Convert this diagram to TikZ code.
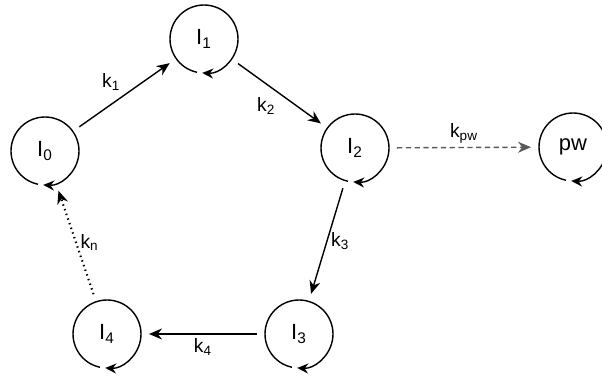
\documentclass[tikz,border=0pt]{standalone}
\usepackage{fontspec}
\setmainfont{Liberation Sans}
\usetikzlibrary{arrows.meta,calc}

\begin{document}
\begin{tikzpicture}[
x=0.02cm,
y=-0.02cm,
every node/.style={font=\fontsize{11}{12}\selectfont},
pool/.style={circle,minimum size=1.36cm,inner sep=0pt,outer sep=0.16cm,font=\fontsize{12.5}{13}\selectfont},
arr/.style={-{Stealth[length=2.6mm,width=2.2mm]},thick},
ring/.style={-{Stealth[length=2.2mm,width=2.0mm]},thick},
lbl/.style={inner sep=2pt}
]
\useasboundingbox (0,0) rectangle (602,381);

\node[pool] (i0) at (45,151) {I\textsubscript{0}};
\node[pool] (i1) at (204,39) {I\textsubscript{1}};
\node[pool] (i2) at (355,148) {I\textsubscript{2}};
\node[pool] (i3) at (299,334) {I\textsubscript{3}};
\node[pool] (i4) at (107,334) {I\textsubscript{4}};
\node[pool] (pw) at (573,147) {pw};

% turnover loop on every pool
\foreach \p in {i0,i1,i2,i3,i4,pw}
  \draw[ring] ($(\p.center)+(258:0.68cm)$) arc[start angle=258,end angle=-93,radius=0.68cm];

\draw[arr] (i0) -- node[lbl,above left]{k\textsubscript{1}} (i1);
\draw[arr] (i1) -- node[lbl,below left]{k\textsubscript{2}} (i2);
\draw[arr] (i2) -- node[lbl,right]{k\textsubscript{3}} (i3);
\draw[arr] (i3) -- node[lbl,below]{k\textsubscript{4}} (i4);
\draw[arr,dotted,very thick] (i4) -- node[lbl,right]{k\textsubscript{n}} (i0);
\draw[arr,densely dashed,gray!70!black] (i2) -- node[lbl,above,text=black]{k\textsubscript{pw}} (pw);
\end{tikzpicture}
\end{document}
